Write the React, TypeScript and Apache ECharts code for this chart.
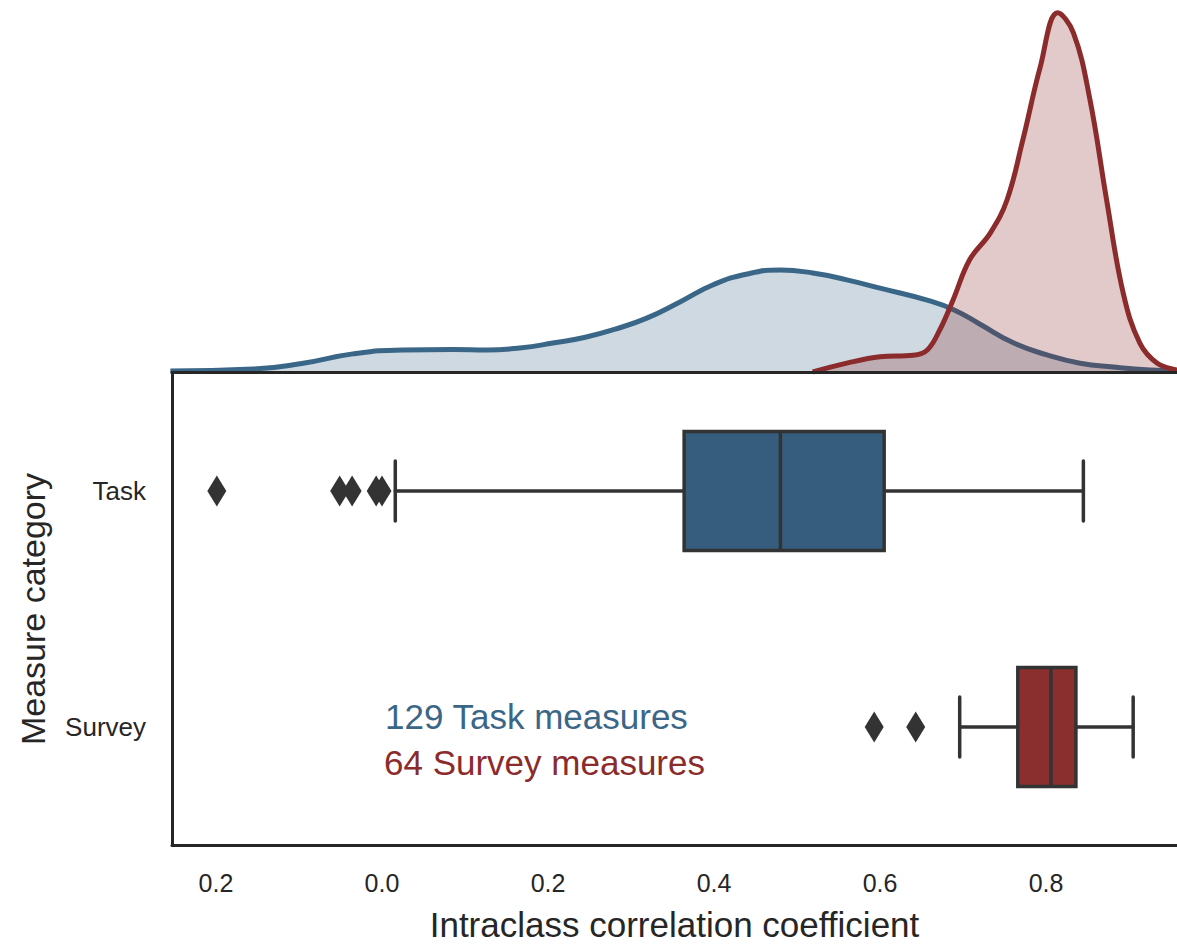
import React, { useEffect, useRef } from "react";
import * as echarts from "echarts";

const categories = ["Task", "Survey"];
// [categoryIndex, whiskerLow, q1, median, q3, whiskerHigh]
const boxStats = [
  [0, 0.016, 0.364, 0.48, 0.605, 0.845],
  [1, 0.696, 0.766, 0.806, 0.836, 0.905],
];
const taskOutliers = [-0.199, -0.051, -0.036, -0.007, 0.0];
const surveyOutliers = [0.593, 0.643];

const xTickValues = [-0.2, 0.0, 0.2, 0.4, 0.6, 0.8];
const xTickLabels = ["0.2", "0.0", "0.2", "0.4", "0.6", "0.8"];

const taskDensity: number[][] = [
  [-0.255, 0.02], [-0.155, 0.06], [-0.095, 0.18], [-0.035, 0.37], [0.025, 0.45],
  [0.086, 0.46], [0.127, 0.45], [0.166, 0.49], [0.206, 0.59], [0.245, 0.71],
  [0.28, 0.87], [0.319, 1.1], [0.359, 1.43], [0.399, 1.78], [0.44, 2.0],
  [0.48, 2.08], [0.519, 2.02], [0.56, 1.88], [0.6, 1.71], [0.66, 1.45],
  [0.69, 1.26], [0.72, 0.98], [0.76, 0.6], [0.801, 0.35], [0.841, 0.18],
  [0.881, 0.1], [0.925, 0.04], [0.967, 0.02],
];
const surveyDensity: number[][] = [
  [0.519, 0.0], [0.56, 0.18], [0.6, 0.31], [0.64, 0.34], [0.657, 0.45],
  [0.672, 0.86], [0.688, 1.47], [0.708, 2.29], [0.733, 2.84], [0.753, 3.51],
  [0.772, 4.73], [0.793, 6.22], [0.814, 7.33], [0.833, 6.92], [0.853, 5.55],
  [0.873, 3.51], [0.893, 1.61], [0.913, 0.59], [0.934, 0.18], [0.958, 0.04],
  [0.973, 0.0],
];

const BLUE = "#3a6687";
const RED = "#8b2b2b";
const BOX_FILL = ["#365d7e", "#8a2e2e"];
const DARK = "#333333";
const FONT = "Liberation Sans";
const XMIN = -0.253;
const XMAX = 0.9578;

export default function App() {
  const ref = useRef<HTMLDivElement>(null);
  useEffect(() => {
    if (!ref.current) return;
    const chart = echarts.init(ref.current, null, { renderer: "svg" });
    const option: any = {
      animation: false,
      backgroundColor: "#ffffff",
      grid: [
        { left: 172, right: 0, top: 0, height: 372 },
        { left: 172, right: 0, top: 373, bottom: 99 },
      ],
      xAxis: [
        {
          type: "value", gridIndex: 0, min: XMIN, max: XMAX,
          axisLine: { show: true, onZero: false, lineStyle: { color: "#262626", width: 3 } },
          axisTick: { show: false }, axisLabel: { show: false }, splitLine: { show: false },
          z: 5,
        },
        {
          type: "value", gridIndex: 1, min: XMIN, max: XMAX,
          axisLine: { show: true, onZero: false, lineStyle: { color: "#262626", width: 3 } },
          axisTick: { show: false }, splitLine: { show: false },
          axisLabel: {
            customValues: xTickValues,
            formatter: (v: number) => {
              const i = xTickValues.findIndex((t) => Math.abs(t - v) < 1e-6);
              return i >= 0 ? xTickLabels[i] : "";
            },
            fontFamily: FONT, fontSize: 25, color: "#262626", margin: 25,
          },
          name: "Intraclass correlation coefficient",
          nameLocation: "middle", nameGap: 62,
          nameTextStyle: { fontFamily: FONT, fontSize: 35, color: "#262626" },
        },
      ],
      yAxis: [
        { type: "value", gridIndex: 0, min: 0, max: 7.59, show: false },
        {
          type: "category", gridIndex: 1, data: categories, inverse: true,
          axisLine: { show: true, onZero: false, lineStyle: { color: "#262626", width: 3 } },
          axisTick: { show: false }, splitLine: { show: false },
          axisLabel: { fontFamily: FONT, fontSize: 26, color: "#262626", margin: 26 },
          name: "Measure category", nameLocation: "middle", nameGap: 122,
          nameTextStyle: { fontFamily: FONT, fontSize: 34, color: "#262626" },
        },
      ],
      series: [
        {
          type: "line", xAxisIndex: 0, yAxisIndex: 0, data: taskDensity,
          smooth: 0.5, symbol: "none", clip: true,
          lineStyle: { color: BLUE, width: 5 },
          areaStyle: { color: BLUE, opacity: 0.25, origin: "start" },
          z: 2,
        },
        {
          type: "line", xAxisIndex: 0, yAxisIndex: 0, data: surveyDensity,
          smooth: 0.4, symbol: "none", clip: true,
          lineStyle: { color: RED, width: 5 },
          areaStyle: { color: RED, opacity: 0.25, origin: "start" },
          z: 3,
        },
        {
          type: "custom", xAxisIndex: 1, yAxisIndex: 1, data: boxStats,
          encode: { x: [1, 2, 3, 4, 5], y: 0 },
          renderItem: (params: any, api: any) => {
            const cat = api.value(0);
            const low = api.coord([api.value(1), cat]);
            const q1 = api.coord([api.value(2), cat]);
            const med = api.coord([api.value(3), cat]);
            const q3 = api.coord([api.value(4), cat]);
            const high = api.coord([api.value(5), cat]);
            const band = api.size([0, 1])[1];
            const hh = band * 0.252;
            const ch = band * 0.127;
            const y = low[1];
            const ls = { stroke: DARK, lineWidth: 3.5, lineCap: "round" };
            return {
              type: "group",
              children: [
                { type: "line", shape: { x1: low[0], y1: y, x2: q1[0], y2: y }, style: ls },
                { type: "line", shape: { x1: q3[0], y1: y, x2: high[0], y2: y }, style: ls },
                { type: "line", shape: { x1: low[0], y1: y - ch, x2: low[0], y2: y + ch }, style: ls },
                { type: "line", shape: { x1: high[0], y1: y - ch, x2: high[0], y2: y + ch }, style: ls },
                {
                  type: "rect",
                  shape: { x: q1[0], y: y - hh, width: q3[0] - q1[0], height: hh * 2 },
                  style: { fill: BOX_FILL[params.dataIndex], stroke: DARK, lineWidth: 3.5 },
                },
                { type: "line", shape: { x1: med[0], y1: y - hh, x2: med[0], y2: y + hh }, style: { stroke: DARK, lineWidth: 3.5 } },
              ],
            };
          },
          z: 3,
        },
        {
          type: "scatter", xAxisIndex: 1, yAxisIndex: 1,
          data: [
            ...taskOutliers.map((v) => [v, 0]),
            ...surveyOutliers.map((v) => [v, 1]),
          ],
          symbol: "diamond", symbolSize: [19, 31],
          itemStyle: { color: DARK, opacity: 1 },
          z: 4,
        },
      ],
      graphic: [
        {
          type: "text", left: 385, top: 699,
          style: { text: "129 Task measures", fill: BLUE, fontFamily: FONT, fontSize: 35 },
        },
        {
          type: "text", left: 384, top: 745,
          style: { text: "64 Survey measures", fill: RED, fontFamily: FONT, fontSize: 35 },
        },
      ],
    };
    chart.setOption(option);
    return () => chart.dispose();
  }, []);
  return (
    <div
      ref={ref}
      style={{ position: "absolute", left: 0, top: 0, width: 1177, height: 944 }}
    />
  );
}
